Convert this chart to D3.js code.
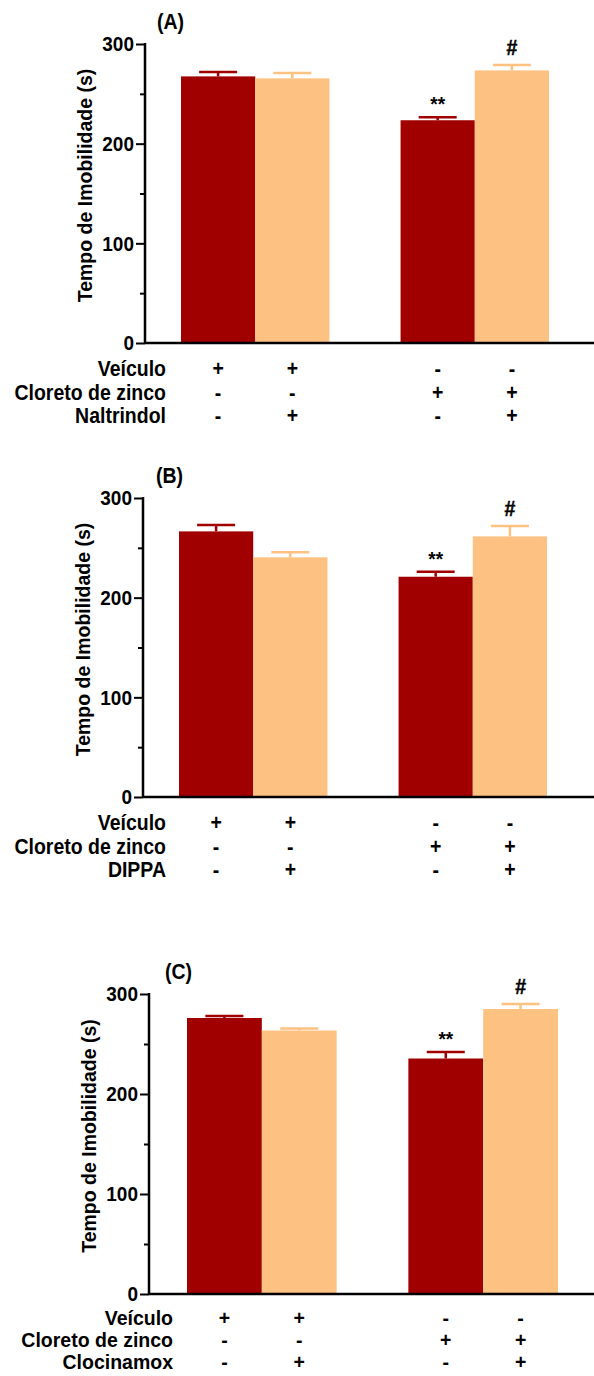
<!DOCTYPE html>
<html>
<head>
<meta charset="utf-8">
<script src="https://cdn.jsdelivr.net/npm/d3@7/dist/d3.min.js"></script>
<style>
  html, body { margin: 0; padding: 0; background: #fff; }
  svg { display: block; }
  text { font-family: "Liberation Sans", Arial, Helvetica, sans-serif; font-weight: bold; fill: #000; }
</style>
</head>
<body>
<svg id="chart" width="594" height="1376"></svg>
<script>
// Immobility time (s), mean and upper error, for each panel
const groups = ["controle", "zinco"];
const treatments = ["veiculo", "antagonista"];

const panelTitles = ["(A)", "(B)", "(C)"];
const antagonists = ["Naltrindol", "DIPPA", "Clocinamox"];

const meansA = [267.5, 265.5, 223.5, 273.5];
const errorsA = [272, 271, 226.5, 279];
const meansB = [266.5, 240.5, 221, 261.5];
const errorsB = [273, 245.5, 226, 272];
const meansC = [276, 263.5, 235.5, 285];
const errorsC = [278, 265.5, 242, 290];

const rowLabels = ["Veículo", "Cloreto de zinco"];
const veiculoSigns = ["+", "+", "-", "-"];
const zincoSigns = ["-", "-", "+", "+"];
const antagonistSigns = ["-", "+", "-", "+"];

const starLabels = ["", "", "**", ""];
const hashLabels = ["", "", "", "#"];

const yTicks = [0, 100, 200, 300];
const yMinorTicks = [50, 150, 250];
const yLabel = "Tempo de Imobilidade (s)";

const colors = ["#a00000", "#fdc182"];

// slightly tall lettering
const STRETCH = 1.1;

// panel frames: y-axis x, baseline y, top y, x extent of the bars, table layout
const frames = [
  { ax: 145, y0: 343, y1: 44, x0: 181, x1: 549, lab: 166, tx: 157, rowsDy: [25, 49, 72], tableStretch: STRETCH, tableFont: 19.5 },
  { ax: 143, y0: 797, y1: 498, x0: 179, x1: 547, lab: 166, tx: 156, rowsDy: [25, 49, 72], tableStretch: STRETCH, tableFont: 19.5 },
  { ax: 149, y0: 1294, y1: 994, x0: 187, x1: 558, lab: 173, tx: 165, rowsDy: [23.5, 46, 67.5], tableStretch: 1, tableFont: 19.5 }
];

const svg = d3.select("#chart");

// place a text at (x, y) with a vertical stretch applied
function placeText(sel, fx, fy, s = STRETCH) {
  return sel.attr("transform", (d, i, n) => `translate(${fx(d, i, n)},${fy(d, i, n)}) scale(1,${s})`);
}

function drawPanel(i, means, errors) {
  const f = frames[i];
  const g = svg.append("g");

  const y = d3.scaleLinear().domain([0, 300]).range([f.y0, f.y1]);
  const xg = d3.scaleBand().domain(groups).range([f.x0, f.x1]).paddingInner(0.324).paddingOuter(0);
  const xb = d3.scaleBand().domain(treatments).range([0, xg.bandwidth()]);

  const rows = groups.flatMap((gr, gi) => treatments.map((t, ti) => ({
    group: gr, trt: t, k: gi * 2 + ti, ti,
    mean: means[gi * 2 + ti], err: errors[gi * 2 + ti]
  })));
  const cx = d => xg(d.group) + xb(d.trt) + xb.bandwidth() / 2;

  // bars
  g.selectAll("rect.bar").data(rows).join("rect")
    .attr("class", "bar")
    .attr("x", d => xg(d.group) + xb(d.trt))
    .attr("width", xb.bandwidth())
    .attr("y", d => y(d.mean))
    .attr("height", d => y(0) - y(d.mean))
    .attr("fill", d => colors[d.ti]);

  // upper error bars
  const eb = g.selectAll("g.err").data(rows).join("g").attr("class", "err")
    .attr("stroke", d => colors[d.ti]).attr("stroke-width", 2.5);
  eb.append("line")
    .attr("x1", cx).attr("x2", cx)
    .attr("y1", d => y(d.mean)).attr("y2", d => y(d.err));
  eb.append("line")
    .attr("x1", d => cx(d) - 19).attr("x2", d => cx(d) + 19)
    .attr("y1", d => y(d.err)).attr("y2", d => y(d.err));

  // significance marks
  placeText(g.selectAll("text.star").data(rows.filter(d => starLabels[d.k])).join("text"),
      cx, d => y(d.err) - 6)
    .attr("text-anchor", "middle").attr("font-size", 19)
    .text(d => starLabels[d.k]);
  placeText(g.selectAll("text.hash").data(rows.filter(d => hashLabels[d.k])).join("text"),
      cx, d => y(d.err) - 10)
    .attr("text-anchor", "middle").attr("font-size", 19.5).attr("stroke", "#000").attr("stroke-width", 0.4)
    .text(d => hashLabels[d.k]);

  // y axis
  const yAxis = d3.axisLeft(y).tickValues(yTicks).tickSize(9).tickPadding(2).tickFormat(d3.format("d"));
  const ya = g.append("g").attr("transform", `translate(${f.ax},0)`).call(yAxis);
  ya.select(".domain").remove();
  ya.selectAll(".tick line").attr("stroke", "#000").attr("stroke-width", 2);
  ya.selectAll(".tick text").attr("font-size", 19).attr("fill", "#000")
    .attr("font-family", "Liberation Sans, Arial, sans-serif").attr("font-weight", "bold")
    .attr("transform", `scale(1,${STRETCH})`);
  const ym = g.append("g").attr("transform", `translate(${f.ax},0)`)
    .call(d3.axisLeft(y).tickValues(yMinorTicks).tickSize(5).tickFormat(""));
  ym.select(".domain").remove();
  ym.selectAll(".tick line").attr("stroke", "#000").attr("stroke-width", 2);

  g.append("line").attr("x1", f.ax).attr("x2", f.ax).attr("y1", y(300) - 1).attr("y2", y(0) + 1)
    .attr("stroke", "#000").attr("stroke-width", 2.5);
  g.append("line").attr("x1", f.ax).attr("x2", 594).attr("y1", y(0)).attr("y2", y(0))
    .attr("stroke", "#000").attr("stroke-width", 2.5);

  // axis title
  const midY = (y(0) + y(300)) / 2 - 8;
  g.append("text")
    .attr("transform", `translate(${f.ax - 53},${midY}) rotate(-90)`)
    .attr("text-anchor", "middle").attr("font-size", 19.5)
    .text(yLabel);

  // panel letter
  placeText(g.append("text"), () => f.tx, () => y(300) - 15)
    .attr("font-size", 19.5).text(panelTitles[i]);

  // treatment table under the axis
  const tableRows = [
    { label: rowLabels[0], signs: veiculoSigns, dy: f.rowsDy[0] },
    { label: rowLabels[1], signs: zincoSigns, dy: f.rowsDy[1] },
    { label: antagonists[i], signs: antagonistSigns, dy: f.rowsDy[2] }
  ];
  tableRows.forEach(r => {
    placeText(g.append("text"), () => f.lab, () => y(0) + r.dy, f.tableStretch)
      .attr("dy", "0.36em").attr("text-anchor", "end").attr("font-size", f.tableFont)
      .text(r.label);
    placeText(g.selectAll(null).data(rows).join("text"), cx, () => y(0) + r.dy, f.tableStretch)
      .attr("dy", "0.36em").attr("text-anchor", "middle").attr("font-size", f.tableFont)
      .text(d => r.signs[d.k]);
  });
}

drawPanel(0, meansA, errorsA);
drawPanel(1, meansB, errorsB);
drawPanel(2, meansC, errorsC);
</script>
</body>
</html>
